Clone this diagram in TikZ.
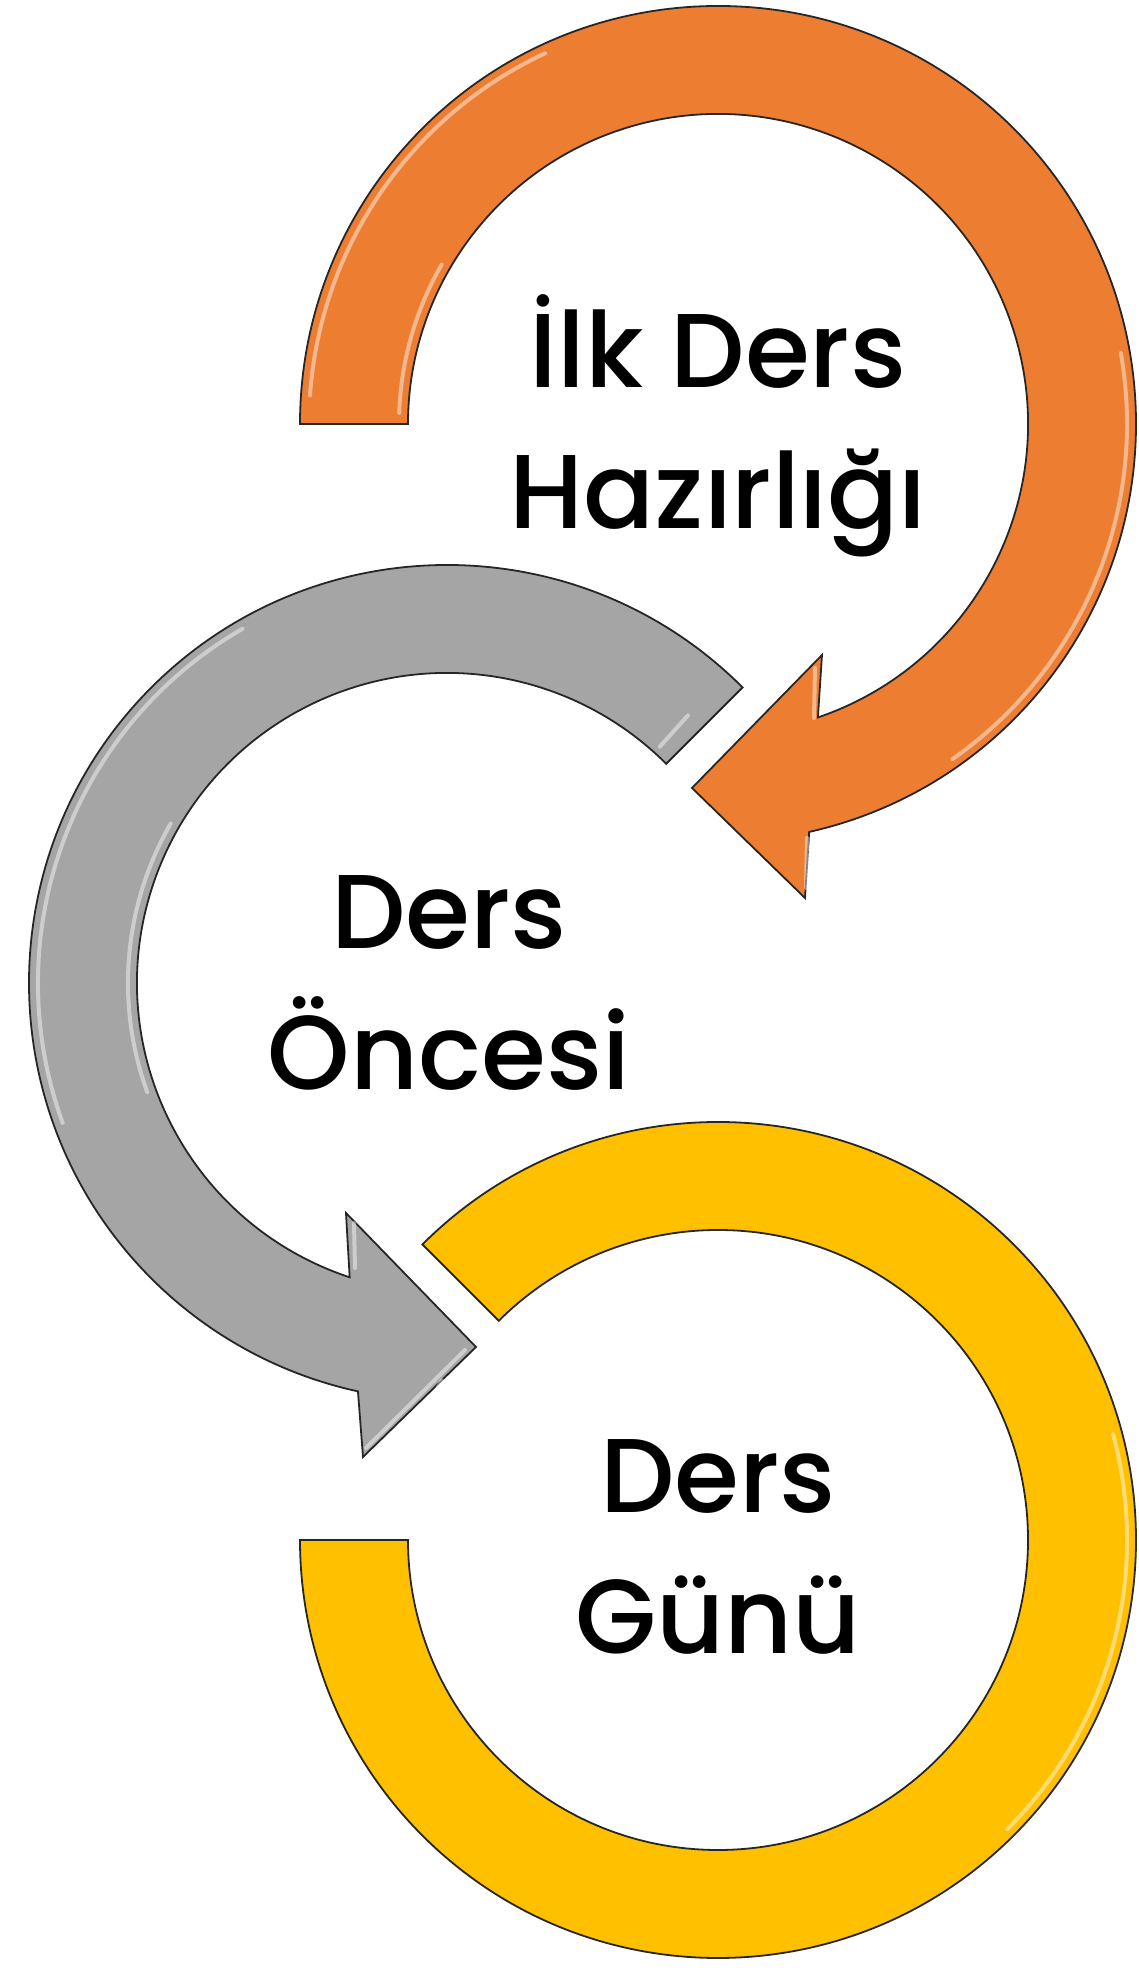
\documentclass[tikz,border=0pt]{standalone}
\usepackage{fontspec}
\setmainfont{Poppins}[UprightFont=* Medium]
\usepackage{tikz}
\usetikzlibrary{calc}

\definecolor{ringorange}{HTML}{ED7D31}
\definecolor{ringgray}{HTML}{A5A5A5}
\definecolor{ringyellow}{HTML}{FFC000}
\definecolor{rimline}{HTML}{262626}

\tikzset{
  ring/.style={draw=rimline, line width=1.8pt, line join=miter},
  gloss/.style={draw=white, opacity=0.45, line width=4pt, line cap=round},
  steptext/.style={font=\fontsize{105}{105}\selectfont, anchor=base, inner sep=0pt}
}

\begin{document}
\begin{tikzpicture}[x=1pt,y=1pt]
  \useasboundingbox (0,0) rectangle (1138,1968);
  % Centres
  \coordinate (c1) at (718,1544);
  \coordinate (c2) at (447,985);
  \coordinate (c3) at (718,428);
  % Arrows
  \path[ring, fill=ringorange] ($(c1)+(180:418)$) arc[start angle=180, end angle=-77.4, radius=418]
    -- (805,1070) -- (692,1180) -- (822,1313)
    -- ($(c1)+(-71.2:310)$) arc[start angle=-71.2, end angle=180, radius=310] -- cycle;
  \path[ring, fill=ringgray] ($(c2)+(45:418)$) arc[start angle=45, end angle=257.7, radius=418]
    -- (363,511) -- (476,621) -- (346,755)
    -- ($(c2)+(251.7:310)$) arc[start angle=251.7, end angle=45, radius=310] -- cycle;
  \path[ring, fill=ringyellow] ($(c3)+(135:418)$) arc[start angle=135, end angle=-180, radius=418]
    -- ($(c3)+(180:310)$) arc[start angle=-180, end angle=135, radius=310] -- cycle;
  % Shine
  \draw[gloss] ($(c1)+(176:409)$) arc[start angle=176, end angle=115, radius=409];
  \draw[gloss] ($(c1)+(10:409)$) arc[start angle=10, end angle=-55, radius=409];
  \draw[gloss] ($(c1)+(178:319)$) arc[start angle=178, end angle=150, radius=319];
  \draw[gloss] (814,1250) -- (815,1300);
  \draw[gloss] (806,1080) -- (807,1130);
  \draw[gloss] ($(c2)+(120:409)$) arc[start angle=120, end angle=200, radius=409];
  \draw[gloss] ($(c2)+(150:319)$) arc[start angle=150, end angle=200, radius=319];
  \draw[gloss] ($(c2)+(48:360)$) -- ($(c2)+(48:318)$);
  \draw[gloss] (355,700) -- (354,745);
  \draw[gloss] (366,520) -- (465,618);
  \draw[gloss] ($(c3)+(15:409)$) arc[start angle=15, end angle=-45, radius=409];
  \draw[gloss] ($(c3)+(178:319)$) arc[start angle=178, end angle=150, radius=319];
  % Labels
  \node[steptext] (ilk1) at (718,1580) {İlk Ders};
  \node[steptext] (ilk2) at (718,1439) {Hazırlığı};
  \node[steptext] (once1) at (449,1019) {Ders};
  \node[steptext] (once2) at (449,878) {Öncesi};
  \node[steptext] (gun1) at (718,455) {Ders};
  \node[steptext] (gun2) at (718,314) {Günü};
\end{tikzpicture}
\end{document}
